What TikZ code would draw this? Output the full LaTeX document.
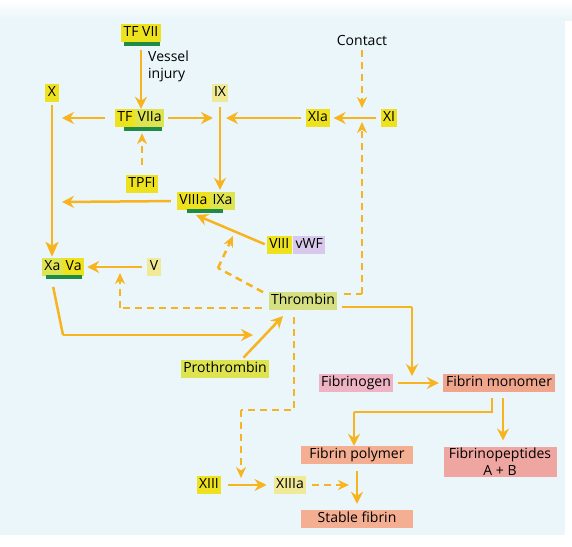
\documentclass[tikz,border=0pt]{standalone}
\usepackage{fontspec}
\setmainfont{Open Sans}
\usetikzlibrary{arrows.meta}
\definecolor{bgc}{RGB}{234,246,250}
\definecolor{orA}{RGB}{247,180,30}
\definecolor{yel}{RGB}{238,226,30}
\definecolor{yelg}{RGB}{222,228,80}
\definecolor{yelp}{RGB}{240,234,150}
\definecolor{thr}{RGB}{214,224,130}
\definecolor{lav}{RGB}{216,200,236}
\definecolor{gbar}{RGB}{30,140,70}
\definecolor{pkA}{RGB}{238,180,196}
\definecolor{pkB}{RGB}{240,166,140}
\definecolor{pkC}{RGB}{244,174,146}
\definecolor{pkD}{RGB}{240,166,160}
\tikzset{
  fnt/.style={font=\fontsize{14}{17}\selectfont},
  lab/.style={fnt, inner xsep=2.5pt, inner ysep=2pt, text height=10.5pt, text depth=3.5pt},
  pink/.style={lab, minimum width=112pt},
  plain/.style={fnt, inner sep=0pt},
  arr/.style={draw=orA, line width=2.5pt, -{Stealth[length=12pt,width=12pt,inset=4pt]}},
  bigarr/.style={draw=orA, line width=2.8pt, -{Stealth[length=15pt,width=13pt,inset=4pt]}},
  darr/.style={draw=orA, line width=2.5pt, dash pattern=on 7pt off 5pt, -{Stealth[open,length=11pt,width=10pt,inset=3.5pt,line width=1.8pt]}},
  dline/.style={draw=orA, line width=2.5pt, dash pattern=on 7pt off 5pt},
  sline/.style={draw=orA, line width=2.5pt},
  gbarst/.style={fill=gbar, draw=none},
}
\begin{document}
\begin{tikzpicture}[x=1pt,y=-1pt]
\useasboundingbox (0,0) rectangle (572,546);
\fill[white] (0,0) rectangle (572,546);
\fill[bgc] (0,20) rectangle (565,535);
\shade[top color=white, bottom color=bgc] (0,0) rectangle (572,20);

% nodes
\node[lab, fill=yel] (tfvii) at (141,33) {TF VII};
\fill[gbarst] (124,42) rectangle (160,46);
\node[fnt, inner sep=0pt, anchor=north west, align=left] (vessel) at (148,51) {Vessel\\injury};
\node[lab, fill=yel] (x) at (52,93) {X};
\node[lab, fill=yelp] (ix) at (220,93) {IX};
\node[lab, fill=yel, anchor=east] (tfa) at (135,118) {TF};
\node[lab, fill=yelg, anchor=west] (tfb) at (tfa.east) {VIIa};
\fill[gbarst] (124,127) rectangle (162,131);
\node[lab, fill=yel] (xia) at (318,118) {XIa};
\node[lab, fill=yel] (xi) at (389,118) {XI};
\node[plain] (contact) at (362,40) {Contact};
\node[lab, fill=yel] (tpfi) at (142,184) {TPFI};
\node[lab, fill=yel, anchor=east] (ixa1) at (210,201) {VIIIa};
\node[lab, fill=yelg, anchor=west] (ixa2) at (ixa1.east) {IXa};
\fill[gbarst] (187,209) rectangle (223,213);
\node[lab, fill=yel, anchor=east] (viii) at (292,245) {VIII};
\node[lab, fill=lav, anchor=west] (vwf) at ([xshift=1pt]viii.east) {vWF};
\node[lab, fill=yelg, anchor=east] (xa) at (63,267) {Xa};
\node[lab, fill=yel, anchor=west] (va) at (xa.east) {Va};
\fill[gbarst] (46,275) rectangle (82,279);
\node[lab, fill=yelp] (v) at (154,267) {V};
\node[lab, fill=thr] (thr) at (303,301) {Thrombin};
\node[lab, fill=yelg] (pro) at (225,369) {Prothrombin};
\node[lab, fill=pkA] (fgen) at (356,383) {Fibrinogen};
\node[pink, fill=pkB] (fmon) at (499,383) {Fibrin monomer};
\node[pink, fill=pkC] (fpol) at (357,455) {Fibrin polymer};
\node[fnt, fill=pkD, align=center, inner xsep=2.5pt, inner ysep=1.5pt, minimum width=113pt] (fpep) at (500,462) {Fibrinopeptides\\A + B};
\node[pink, fill=pkC] (stab) at (357,519) {Stable fibrin};
\node[lab, fill=yel] (xiii) at (209,485) {XIII};
\node[lab, fill=yelp] (xiiia) at (290,485) {XIIIa};

% helper coordinates
\coordinate (xcolA) at (62,118);
\coordinate (ixcolA) at (213,118);
\coordinate (ixcolB) at (226,118);
\coordinate (xcolB) at (62,202);
\coordinate (contA) at (362,108);
\coordinate (contB) at (362,122);
\coordinate (thrR) at (362,294);
\coordinate (vArr) at (120,273);
\coordinate (vCorner) at (120,308);
\coordinate (viiiKink) at (218,268);
\coordinate (viiiTip) at (233,236);
\coordinate (viiiEnd) at (196,215);
\coordinate (xaDown) at (63,335);
\coordinate (thrIn) at (253,335);
\coordinate (thrIn2) at (283,316);
\coordinate (fibCorner) at (412,307);
\coordinate (fibTip) at (412,376);
\coordinate (monA) at (492,412);
\coordinate (monB) at (354,412);
\coordinate (thrDownA) at (294,410);
\coordinate (thrDownB) at (241,410);
\coordinate (xiiiTip) at (241,478);
\coordinate (xiiiaTip) at (349,485);

% connectors
\draw[arr, shorten <=8pt] (tfvii.south) -- (tfvii.south |- tfb.north);
\draw[arr, shorten <=10pt] (tfa.west) -- (xcolA);
\draw[arr, shorten <=4pt] (tfb.east) -- (ixcolA);
\draw[arr, shorten <=4pt] (xia.west) -- (ixcolB);
\draw[arr, shorten <=4pt, shorten >=3pt] (xi.west) -- (xia.east);
\draw[darr, shorten <=5pt] (contact.south) -- (contA);
\draw[dline] (thr.east |- thrR) ++(6pt,0) -- (thrR);
\draw[darr] (thrR) -- (contB);
\draw[darr, shorten <=10pt, shorten >=6pt] (tpfi.north) -- (tpfi.north |- tfb.south);
\draw[arr, shorten <=5pt, shorten >=2pt] (ix.south) -- (ix.south |- ixa2.north);
\draw[arr, shorten <=6pt] (ixa1.west) -- (xcolB);
\draw[bigarr, shorten <=3pt, shorten >=1pt] (x.south) -- (x.south |- xa.north);
\draw[arr, shorten <=5pt, shorten >=3pt] (v.west) -- (va.east);
\draw[dline, shorten <=6pt] (thr.west |- vCorner) -- (vCorner);
\draw[darr] (vCorner) -- (vArr);
\draw[dline, shorten <=6pt] (thr.west |- 0,295) -- (viiiKink);
\draw[darr] (viiiKink) -- (viiiTip);
\draw[arr, shorten <=2pt] (viii.west) -- (viiiEnd);
\draw[sline, shorten <=4pt] (xa.south |- 0,283) -- (xaDown);
\draw[arr] (xaDown) -- (thrIn);
\draw[arr, shorten <=3pt] (pro.north east) ++(-28pt,0) -- (thrIn2);
\draw[sline, shorten <=4pt] (thr.east |- fibCorner) -- (fibCorner);
\draw[arr] (fibCorner) -- (fibTip);
\draw[arr, shorten <=4pt, shorten >=4pt] (fgen.east) -- (fmon.west);
\draw[sline, shorten <=6pt] (fmon.south -| monA) -- (monA) -- (monB);
\draw[arr] (monB) -- (fpol.north -| monB);
\draw[arr, shorten <=6pt, shorten >=6pt] (fmon.south -| 503,0) -- (fpep.north -| 503,0);
\draw[arr, shorten <=7pt, shorten >=6pt] (fpol.south) -- (stab.north);
\draw[dline, shorten <=7pt] (thr.south -| thrDownA) -- (thrDownA) -- (thrDownB);
\draw[darr] (thrDownB) -- (xiiiTip);
\draw[arr, shorten <=6pt, shorten >=7pt] (xiii.east) -- (xiiia.west);
\draw[darr, shorten <=6pt] (xiiia.east) -- (xiiiaTip);
\end{tikzpicture}
\end{document}
